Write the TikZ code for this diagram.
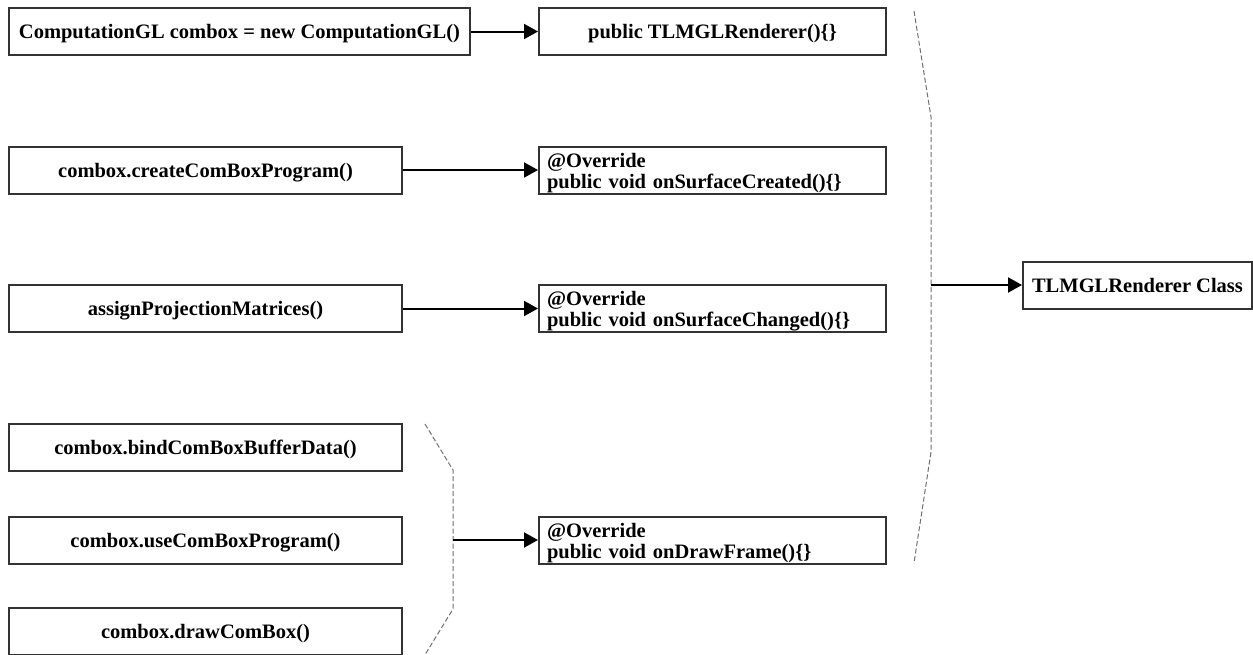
\documentclass[tikz,border=0pt]{standalone}
\usepackage{fontspec}
\setmainfont{Liberation Serif}
\usetikzlibrary{arrows.meta}
\definecolor{boxgray}{HTML}{333333}
\definecolor{bracegray}{HTML}{707070}
\begin{document}
\begin{tikzpicture}[x=1pt,y=-1pt,
  box/.style={draw=boxgray, line width=2pt, fill=white, minimum height=47pt,
    inner sep=0pt, text height=14pt, text depth=0pt,
    font=\fontsize{20.5}{21}\selectfont\bfseries},
  wide/.style={box, minimum width=461pt},
  leftbox/.style={box, minimum width=393pt},
  method/.style={box, minimum width=347pt},
  twoline/.style={box, text width=331pt, inner xsep=8pt, align=left, text depth=20pt},
  classbox/.style={box, minimum width=229pt},
  flow/.style={line width=2pt, -{Triangle[length=14pt,width=15pt]}},
  bracket/.style={draw=bracegray, line width=1pt, dash pattern=on 5pt off 2.5pt}]

\useasboundingbox (0,0) rectangle (1253,654);
\clip (0,0) rectangle (1253,654);

% caller side
\node[wide]    (ctor)   at (239.5,31.5) {ComputationGL combox = new ComputationGL()};
\node[leftbox] (create) at (205.5,170)  {combox.createComBoxProgram()};
\node[leftbox] (assign) at (205.5,308.5) {assignProjectionMatrices()};
\node[leftbox] (bind)   at (205.5,447)  {combox.bindComBoxBufferData()};
\node[leftbox] (use)    at (205.5,540)  {combox.useComBoxProgram()};
\node[leftbox] (drawcb) at (205.5,631.5) {combox.drawComBox()};

% renderer methods
\node[method]  (rctor)   at (712.5,31.5) {public TLMGLRenderer()\{\}};
\node[twoline] (created) at (712.5,170)  {@Override\\public void onSurfaceCreated()\{\}};
\node[twoline] (changed) at (712.5,308.5) {@Override\\public void onSurfaceChanged()\{\}};
\node[twoline] (frame)   at (712.5,540)  {@Override\\public void onDrawFrame()\{\}};

% class
\node[classbox] (cls) at (1137.5,285) {TLMGLRenderer Class};

% grouping brackets
\coordinate (ljoin) at (453,540);
\coordinate (rjoin) at (931,285);
\draw[bracket] (425,424) -- (453,470) -- (453,609) -- (423,658);
\draw[bracket] (914,11) -- (931,117) -- (931,452) -- (914,563);

% connectors
\draw[flow] (ctor.east)   -- (rctor.west);
\draw[flow] (create.east) -- (created.west);
\draw[flow] (assign.east) -- (changed.west);
\draw[flow] (ljoin)       -- (frame.west);
\draw[flow] (rjoin)       -- (cls.west);
\end{tikzpicture}
\end{document}
